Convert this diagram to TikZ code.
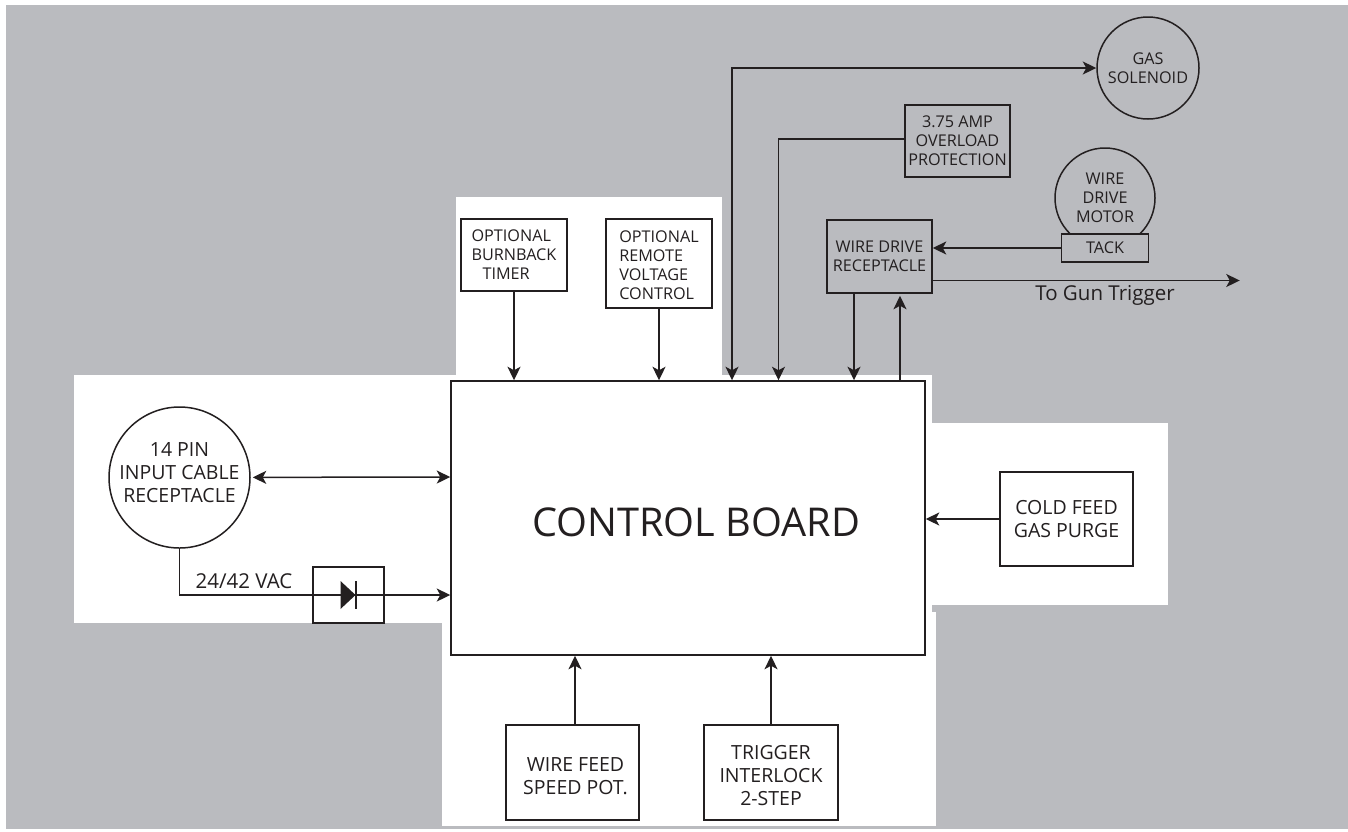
\documentclass[tikz,border=0pt]{standalone}
\usepackage{fontspec}
\setmainfont{Open Sans}
\usetikzlibrary{shapes.geometric, arrows.meta}
\definecolor{panel}{RGB}{186,187,191}
\definecolor{ink}{RGB}{35,31,32}

\begin{document}
\begin{tikzpicture}[x=1pt, y=-1pt, node distance=100pt, >={Stealth[length=13.5pt,width=13pt,inset=3.5pt]}]

% Block styles
\tikzstyle{block} = [rectangle, draw=ink, text=ink, line width=1.5pt, inner sep=0pt,
    font=\fontsize{16.2}{19}\selectfont, align=center]
\tikzstyle{bigblock} = [block, font=\fontsize{19.5}{23}\selectfont]
\tikzstyle{round} = [circle, draw=ink, text=ink, line width=1.5pt, inner sep=0pt,
    font=\fontsize{16.2}{19}\selectfont, align=center]
\tikzstyle{wire} = [draw=ink, line width=1.5pt, ->]
\tikzstyle{caption} = [text=ink, inner sep=0pt, font=\fontsize{20.5}{24}\selectfont]
\tikzstyle{bigtext} = [caption, font=\fontsize{19.5}{23}\selectfont, align=center]

\useasboundingbox (0,0) rectangle (1348,831);

% Background
\fill[panel] (6,5) rectangle (1348,829);
\fill[white] (456,197) rectangle (722,376);
\fill[white] (74,375) rectangle (932,623);
\fill[white] (932,423) rectangle (1168,605);
\fill[white] (442,612) rectangle (936,826);

% Nodes
\node (board) [block, minimum width=474pt, minimum height=274pt] at (688,518) {};
\node (boardtext) [caption, font=\fontsize{39.7}{46}\selectfont] at ([xshift=8pt,yshift=-4pt]board.center) {CONTROL BOARD};
\node (burnback) [block, minimum width=106pt, minimum height=72pt, above of=board, xshift=-174pt, yshift=163pt, align=left] {OPTIONAL\\BURNBACK\\\hspace*{11pt}TIMER};
\node (remote) [block, minimum width=106pt, minimum height=89pt, right of=burnback, xshift=45pt, yshift=-8.5pt] {};
\node (remotetext) [caption, font=\fontsize{16.2}{19}\selectfont, align=left] at ([yshift=-2pt]remote.center) {OPTIONAL\\REMOTE\\VOLTAGE\\CONTROL};
\node (wirerec) [block, minimum width=105pt, minimum height=73pt, right of=remote, xshift=120.5pt, yshift=7pt] {WIRE DRIVE\\RECEPTACLE};
\node (overload) [block, minimum width=105pt, minimum height=72pt, above of=wirerec, xshift=78pt, yshift=15.5pt] {3.75 AMP\\OVERLOAD\\PROTECTION};
\node (gas) [round, minimum size=102pt, right of=overload, xshift=90.5pt, yshift=73pt] {GAS\\SOLENOID};
\node (motor) [round, minimum size=100pt, right of=wirerec, xshift=125.5pt, yshift=58.5pt] {WIRE\\DRIVE\\MOTOR};
\node (tack) [block, fill=panel, minimum width=87pt, minimum height=28pt, below of=motor, yshift=50pt] {TACK};
\node (pin) [round, minimum size=141pt, left of=board, xshift=-408.5pt, yshift=40.5pt] {};
\node (pintext) [bigtext] at ([yshift=4.5pt]pin.center) {14 PIN\\INPUT CABLE\\RECEPTACLE};
\node (diode) [block, minimum width=71pt, minimum height=56pt, right of=pin, xshift=69pt, yshift=-117.5pt] {};
\node (cold) [bigblock, minimum width=133pt, minimum height=94pt, right of=board, xshift=278.5pt, yshift=-1pt] {COLD FEED\\GAS PURGE};
\node (wirefeed) [bigblock, minimum width=133pt, minimum height=95pt, below of=board, xshift=-115.5pt, yshift=-154.5pt] {};
\node (wirefeedtext) [bigtext] at ([xshift=3pt,yshift=-4pt]wirefeed.center) {WIRE FEED\\SPEED POT.};
\node (trigger) [bigblock, minimum width=134pt, minimum height=95pt, right of=wirefeed, xshift=98.5pt] {};
\node (triggertext) [bigtext] at ([yshift=-3pt]trigger.center) {TRIGGER\\INTERLOCK\\2-STEP};
\node (vac) [caption, above of=diode, xshift=-104.5pt, yshift=-86pt] {24/42 VAC};
\node (gunlabel) [caption, below of=tack, yshift=53pt] {To Gun Trigger};

% Free ends
\coordinate (gasin) at ([xshift=44pt]board.north);
\coordinate (overin) at ([xshift=90.5pt]board.north);
\coordinate (pinin) at ([yshift=41pt]board.west);
\coordinate (diodein) at ([yshift=-77pt]board.west);
\coordinate (gun) at ([xshift=307pt,yshift=-24pt]wirerec.east);

% Arrows
\draw [wire, <->] (gas) -| (gasin);
\draw [wire] ([yshift=2pt]overload.west) -| (overin);
\draw [wire] (burnback) -- (burnback |- board.north);
\draw [wire] (remote) -- (remote |- board.north);
\draw [wire] ([xshift=-25.5pt]wirerec.south) -- ([xshift=-25.5pt]wirerec.south |- board.north);
\draw [wire] ([xshift=20.5pt]board.north -| wirerec.south) -- ([xshift=20.5pt,yshift=-2pt]wirerec.south);
\draw [wire] (tack) -- (wirerec.east |- tack);
\draw [wire] ([yshift=-24pt]wirerec.east) -- (gun);
\draw [wire, <->, shorten <=2pt] (pin) -- (pinin);
\draw [wire] (pin) |- (diodein);
\draw [wire] (cold) -- (board.east |- cold);
\draw [wire] ([xshift=2.5pt]wirefeed.north) -- ([xshift=2.5pt]wirefeed.north |- board.south);
\draw [wire] (trigger) -- (trigger |- board.south);

% Diode
\fill[ink] ([xshift=-8pt,yshift=14pt]diode.center) -- ([xshift=-8pt,yshift=-14pt]diode.center) -- ([xshift=7pt]diode.center) -- cycle;
\draw[ink, line width=1.6pt] ([xshift=7.5pt,yshift=14pt]diode.center) -- ([xshift=7.5pt,yshift=-14pt]diode.center);

\end{tikzpicture}
\end{document}
